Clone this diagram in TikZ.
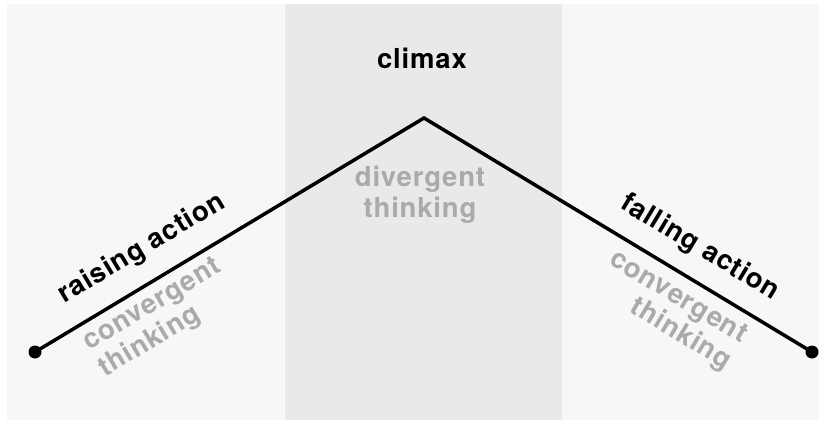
\documentclass[tikz,border=0pt]{standalone}
\usepackage{fontspec}
\newfontfamily\lblfont{TeX Gyre Heros}[LetterSpace=3]
\definecolor{outerbg}{HTML}{F7F7F7}
\definecolor{bandbg}{HTML}{E9E9E9}
\definecolor{softgray}{HTML}{AAAAAA}
\tikzset{
  lbl/.style={inner sep=0pt, font=\lblfont\bfseries\fontsize{27.5}{30.5}\selectfont},
  dark/.style={lbl, text=black},
  light/.style={lbl, text=softgray},
  curve/.style={line width=3.5pt, black},
  enddot/.style={circle, fill=black, inner sep=0pt, minimum size=13pt}
}
\begin{document}
\begin{tikzpicture}[x=1pt, y=-1pt]
\useasboundingbox (0,0) rectangle (826,422);
\fill[white] (0,0) rectangle (826,422);
\fill[outerbg] (7,4) rectangle (819,420);
\fill[bandbg] (285,4) rectangle (562,420);

\node[enddot] (L) at (35,352) {};
\coordinate (P) at (424,118);
\node[enddot] (R) at (812,352) {};
\draw[curve] (L.center) -- (P) -- (R.center);

\node[dark] (climax) at (422,58.5) {climax};
\node[light, align=center] (div) at (420,195) {divergent\\thinking};

\node[dark, rotate=31] (rise) at (142,249) {raising action};
\node[light, rotate=31, align=left, anchor=north west] (convL) at (79.6,335.0) {convergent\\thinking};

\node[dark, rotate=-31] (fall) at (700,248) {falling action};
\node[light, rotate=-31, align=right, anchor=north east] (convR) at (750.7,327.6) {convergent\\thinking};
\end{tikzpicture}
\end{document}
